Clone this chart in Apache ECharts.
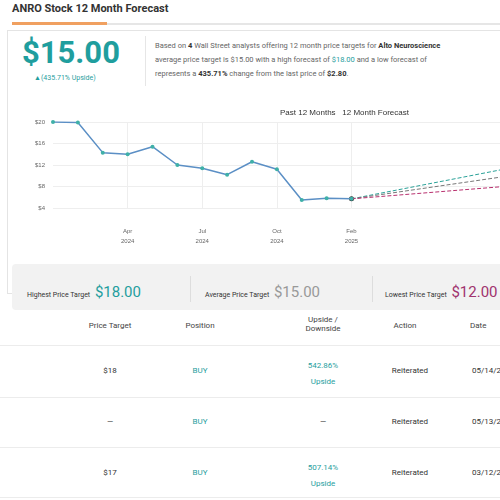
<!DOCTYPE html>
<html><head><meta charset="utf-8">
<script src="https://cdn.jsdelivr.net/npm/echarts@6/dist/echarts.min.js"></script>
<style>
body{margin:0;width:500px;height:500px;overflow:hidden;background:#fff;font-family:Roboto,"Noto Sans",sans-serif;color:#333;position:relative}
.abs{position:absolute;white-space:nowrap}
#title{left:12px;top:2px;font-size:11px;font-weight:bold;color:#333}
#bar{left:12px;top:23px;width:488px;height:2px;background:#e6e6e6}
#bar2{left:12px;top:22px;width:95px;height:3px;background:#f0a060}
#panel{left:7px;top:30px;width:500px;height:262px;border:1px solid #e4e4e4;border-right:none}
#big{left:22px;top:34px;font-size:31px;font-weight:bold;color:#1f9e9e}
#up{left:34px;top:74px;font-size:7px;color:#1f9e9e}
#div{left:145px;top:36px;width:1px;height:50px;background:#e6e6e6}
#para{left:155px;top:39px;font-size:7.5px;line-height:14px;color:#666}
#para b{color:#333}#para span{color:#1f9e9e}
#chart{left:20px;top:100px;width:640px;height:150px}
#box{left:12px;top:264px;width:500px;height:46px;background:#f2f2f2;border-radius:4px}
.lab{font-size:7px;color:#333}
.th{font-size:8px;color:#444;text-align:center}
.td{font-size:8px;color:#333;text-align:center}
.teal{color:#1f9e9e}
.hr{left:0;width:500px;height:1px;background:#ececec}
</style></head><body>
<div class="abs" id="title">ANRO Stock 12 Month Forecast</div>
<div class="abs" id="bar"></div><div class="abs" id="bar2"></div>
<div class="abs" id="panel"></div>
<div class="abs" id="big">$15.00</div>
<div class="abs" id="up">▲(435.71% Upside)</div>
<div class="abs" id="div"></div>
<div class="abs" id="para">Based on <b>4</b> Wall Street analysts offering 12 month price targets for <b>Alto Neuroscience</b><br>average price target is $15.00 with a high forecast of <span>$18.00</span> and a low forecast of<br>represents a <b>435.71%</b> change from the last price of <b>$2.80</b>.</div>
<div class="abs" id="chart"></div>
<div class="abs" id="box"></div>
<div class="abs lab" style="left:27px;top:283px">Highest Price Target <span class="teal" style="font-size:15px;margin-left:3px">$18.00</span></div>
<div class="abs" style="left:190px;top:276px;width:1px;height:26px;background:#ddd"></div>
<div class="abs lab" style="left:205px;top:283px">Average Price Target <span style="font-size:15px;margin-left:3px;color:#999">$15.00</span></div>
<div class="abs" style="left:372px;top:276px;width:1px;height:26px;background:#ddd"></div>
<div class="abs lab" style="left:385px;top:283px">Lowest Price Target <span style="font-size:15px;margin-left:3px;color:#a0336e">$12.00</span></div>
<div class="abs th" style="left:80px;top:321px;width:60px">Price Target</div>
<div class="abs th" style="left:170px;top:321px;width:60px">Position</div>
<div class="abs th" style="left:290px;top:315px;width:66px">Upside /<br>Downside</div>
<div class="abs th" style="left:380px;top:321px;width:50px">Action</div>
<div class="abs th" style="left:470px;top:321px;width:40px;text-align:left">Date</div>
<div class="abs hr" style="top:345px"></div>
<div class="abs td" style="left:80px;top:106px"></div>
<div class="abs td" style="left:80px;top:366px;width:60px">$18</div>
<div class="abs td teal" style="left:170px;top:366px;width:60px">BUY</div>
<div class="abs td teal" style="left:290px;top:358px;width:66px;line-height:16px">542.86%<br>Upside</div>
<div class="abs td" style="left:380px;top:366px;width:60px">Reiterated</div>
<div class="abs td" style="left:472px;top:366px;text-align:left">05/14/2025</div>
<div class="abs hr" style="top:397px"></div>
<div class="abs td" style="left:80px;top:417px;width:60px">—</div>
<div class="abs td teal" style="left:170px;top:417px;width:60px">BUY</div>
<div class="abs td" style="left:290px;top:417px;width:66px">—</div>
<div class="abs td" style="left:380px;top:417px;width:60px">Reiterated</div>
<div class="abs td" style="left:472px;top:417px;text-align:left">05/13/2025</div>
<div class="abs hr" style="top:447px"></div>
<div class="abs td" style="left:80px;top:468px;width:60px">$17</div>
<div class="abs td teal" style="left:170px;top:468px;width:60px">BUY</div>
<div class="abs td teal" style="left:290px;top:460px;width:66px;line-height:16px">507.14%<br>Upside</div>
<div class="abs td" style="left:380px;top:468px;width:60px">Reiterated</div>
<div class="abs td" style="left:472px;top:468px;text-align:left">03/12/2025</div>
<div class="abs hr" style="top:497px"></div>
<script>
var months = ['Jan\n2024','Feb\n2024','Mar\n2024','Apr\n2024','May\n2024','Jun\n2024','Jul\n2024','Aug\n2024','Sep\n2024','Oct\n2024','Nov\n2024','Dec\n2024','Feb\n2025',
  'M1','M2','M3','M4','M5','M6','M7','M8','M9','M10','M11','M12'];
var past = [20, 19.9, 14.3, 14, 15.4, 12, 11.4, 10.2, 12.6, 11.2, 5.5, 5.8, 5.7];
var highEnd = 16.5, avgEnd = 13.8, lowEnd = 10.2;
var tickLabels = {4:'$4',8:'$8',12:'$12',16:'$16',20:'$20'};
var shown = [3,6,9,12];

function fc(endVal){
  var d = [];
  for (var i = 0; i < months.length; i++) d.push(null);
  d[12] = past[12]; d[24] = endVal;
  return d;
}
var chart = echarts.init(document.getElementById('chart'));
chart.setOption({
  animation:false,
  title:{text:'Past 12 Months   12 Month Forecast',left:255,top:4,textStyle:{fontSize:8,fontWeight:'normal',color:'#333'}},
  grid:{left:33,right:10,top:22,bottom:42},
  xAxis:{type:'category',data:months,boundaryGap:false,
    axisLine:{show:false},axisTick:{show:false},
    axisLabel:{fontSize:6,color:'#666',margin:18,lineHeight:10,interval:function(i){return shown.indexOf(i)>=0;}},
    splitLine:{show:true,interval:function(i){return shown.indexOf(i)>=0;},lineStyle:{color:'#eee'}}},
  yAxis:{type:'value',min:4,max:20,interval:4,
    axisLabel:{fontSize:6,color:'#666',formatter:function(v){return tickLabels[v];}},
    splitLine:{lineStyle:{color:'#eee'}}},
  series:[
    {type:'line',data:past,symbol:'circle',symbolSize:4,lineStyle:{color:'#5b8fc5',width:1.5},itemStyle:{color:'#3fb0a8'}},
    {type:'line',data:fc(highEnd),connectNulls:true,symbol:'none',lineStyle:{color:'#2aa198',type:'dashed',width:1}},
    {type:'line',data:fc(avgEnd),connectNulls:true,symbol:'none',lineStyle:{color:'#777',type:'dashed',width:1}},
    {type:'line',data:fc(lowEnd),connectNulls:true,symbol:'none',lineStyle:{color:'#b8306e',type:'dashed',width:1}},
    {type:'scatter',data:[[12,past[12]]],symbolSize:5,itemStyle:{color:'#000'}}
  ]
});
</script>
</body></html>
